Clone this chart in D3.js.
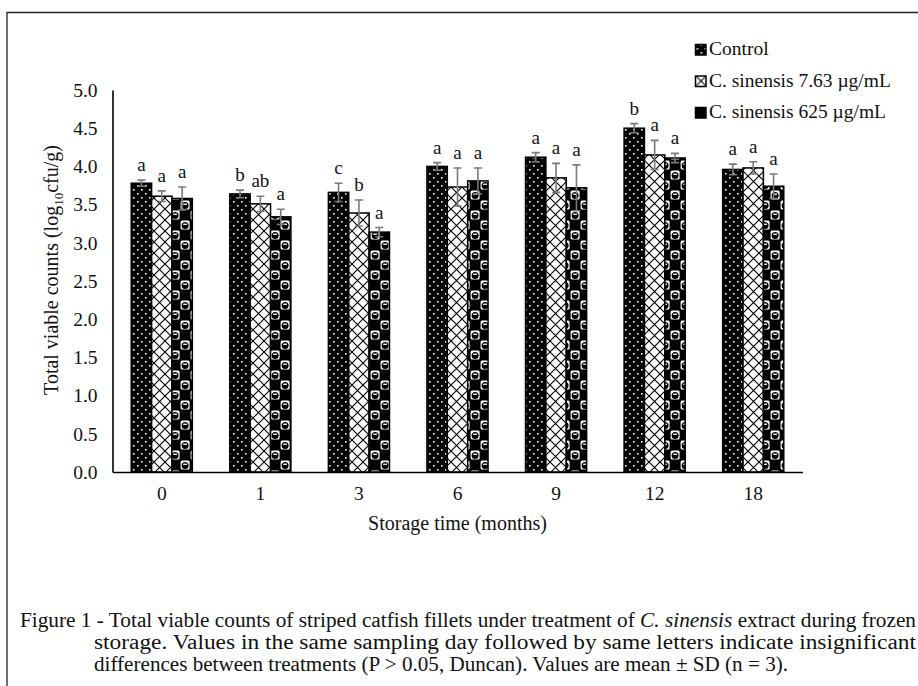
<!DOCTYPE html>
<html>
<head>
<meta charset="utf-8">
<script src="https://cdn.jsdelivr.net/npm/d3@7"></script>
<style>
  body { margin: 0; background: #fff; }
  svg text { font-family: "Liberation Serif", "Times New Roman", serif; fill: #111; }
</style>
</head>
<body>
<div id="chart"></div>
<script>
// Data
var months = ["0", "1", "3", "6", "9", "12", "18"];
var seriesNames = ["Control", "C. sinensis 7.63 \u00b5g/mL", "C. sinensis 625 \u00b5g/mL"];

var controlMean = [3.78, 3.64, 3.66, 4.00, 4.12, 4.50, 3.96];
var lowMean     = [3.61, 3.51, 3.39, 3.73, 3.85, 4.15, 3.98];
var highMean    = [3.58, 3.34, 3.14, 3.81, 3.72, 4.11, 3.74];

var controlSD = [0.04, 0.05, 0.12, 0.05, 0.06, 0.06, 0.07];
var lowSD     = [0.07, 0.10, 0.17, 0.25, 0.19, 0.19, 0.08];
var highSD    = [0.15, 0.10, 0.06, 0.17, 0.30, 0.06, 0.16];

var controlLetters = ["a", "b", "c", "a", "a", "b", "a"];
var lowLetters     = ["a", "ab", "b", "a", "a", "a", "a"];
var highLetters    = ["a", "a", "a", "a", "a", "a", "a"];

var yTicks = [0, 0.5, 1, 1.5, 2, 2.5, 3, 3.5, 4, 4.5, 5];

var captionLines = [
  ["Figure 1 - Total viable counts of striped catfish fillets under treatment of ", "C. sinensis", " extract during frozen"],
  ["storage. Values in the same sampling day followed by same letters indicate insignificant"],
  ["differences between treatments (P > 0.05, Duncan). Values are mean \u00b1 SD (n = 3)."]
];

var svgWidth = 918;
var svgHeight = 686;
var margin = { top: 90, left: 112.5, right: 115.5, bottom: 214 };
var height = svgHeight - margin.top - margin.bottom;

var svg = d3.select("#chart")
  .append("svg")
  .attr("width", svgWidth)
  .attr("height", svgHeight);

// Fill patterns
var defs = svg.append("defs");

var pDots = defs.append("pattern")
  .attr("id", "pat0").attr("patternUnits", "userSpaceOnUse")
  .attr("width", 8).attr("height", 8);
pDots.append("rect").attr("width", 8).attr("height", 8).attr("fill", "#000");
pDots.append("rect").attr("x", 1).attr("y", 1).attr("width", 1.6).attr("height", 1.6).attr("fill", "#fff");
pDots.append("rect").attr("x", 5).attr("y", 5).attr("width", 1.6).attr("height", 1.6).attr("fill", "#fff");

var pCross = defs.append("pattern")
  .attr("id", "pat1").attr("patternUnits", "userSpaceOnUse")
  .attr("width", 11).attr("height", 11);
pCross.append("rect").attr("width", 11).attr("height", 11).attr("fill", "#fff");
pCross.append("path").attr("d", "M0,0L11,11M11,0L0,11")
  .attr("stroke", "#000").attr("stroke-width", 1.1);

// checkerboard of white cells holding a black ball
var pBalls = defs.append("pattern")
  .attr("id", "pat2").attr("patternUnits", "userSpaceOnUse")
  .attr("width", 20).attr("height", 20);
pBalls.append("rect").attr("width", 20).attr("height", 20).attr("fill", "#000");
[[0, 0], [10, 10]].forEach(function(o) {
  pBalls.append("rect").attr("x", o[0] + 0.6).attr("y", o[1] + 0.6)
    .attr("width", 9).attr("height", 9).attr("rx", 1.5).attr("fill", "#fff");
  pBalls.append("circle").attr("cx", o[0] + 5.1).attr("cy", o[1] + 5.4)
    .attr("r", 3.5).attr("fill", "#000");
  pBalls.append("rect").attr("x", o[0] + 3.2).attr("y", o[1] + 3.6)
    .attr("width", 3.8).attr("height", 1.3).attr("fill", "#fff");
});

// Outer frame
svg.append("path")
  .attr("d", "M7,700V12.5H930")
  .attr("fill", "none")
  .attr("stroke", "#222")
  .attr("stroke-width", 1.3);

// Scales
var x0 = d3.scaleBand()
  .domain(months)
  .range([margin.left, svgWidth - margin.right])
  .paddingInner(0.38)
  .paddingOuter(0.19);

var x1 = d3.scaleBand()
  .domain(d3.range(3))
  .range([0, x0.bandwidth()]);

var y = d3.scaleLinear()
  .domain([0, 5])
  .range([margin.top + height, margin.top]);

// Bars
var series = [
  { mean: controlMean, sd: controlSD, letters: controlLetters },
  { mean: lowMean, sd: lowSD, letters: lowLetters },
  { mean: highMean, sd: highSD, letters: highLetters }
];

var rows = [];
months.forEach(function(m, i) {
  series.forEach(function(s, k) {
    rows.push({ month: m, k: k, v: s.mean[i], sd: s.sd[i], letter: s.letters[i] });
  });
});

var cx = function(d) { return x0(d.month) + x1(d.k) + x1.bandwidth() / 2; };

svg.append("g").selectAll("rect")
  .data(rows)
  .enter()
  .append("rect")
  .attr("x", d => x0(d.month) + x1(d.k))
  .attr("y", d => y(d.v))
  .attr("width", x1.bandwidth())
  .attr("height", d => y(0) - y(d.v))
  .attr("fill", d => "url(#pat" + d.k + ")")
  .attr("stroke", "#000")
  .attr("stroke-width", 1.5);

// Error bars
var err = svg.append("g")
  .attr("stroke", "#7a7a7a")
  .attr("stroke-width", 1.6)
  .attr("fill", "none");

err.selectAll("path")
  .data(rows)
  .enter()
  .append("path")
  .attr("d", function(d) {
    var c = cx(d), t = y(d.v + d.sd), b = y(d.v - d.sd);
    return "M" + c + "," + t + "V" + b +
      "M" + (c - 4) + "," + t + "H" + (c + 4) +
      "M" + (c - 4) + "," + b + "H" + (c + 4);
  });

// Significance letters
svg.append("g").selectAll("text")
  .data(rows)
  .enter()
  .append("text")
  .attr("x", cx)
  .attr("y", d => y(d.v + d.sd) - 9)
  .attr("text-anchor", "middle")
  .style("font-size", "19px")
  .text(d => d.letter);

// Axes
var leftAxis = d3.axisLeft(y)
  .tickValues(yTicks)
  .tickFormat(d3.format(".1f"))
  .tickSize(0)
  .tickPadding(15);

var bottomAxis = d3.axisBottom(x0)
  .tickSize(0)
  .tickPadding(14);

svg.append("g")
  .attr("transform", `translate(0, ${y(0)})`)
  .call(bottomAxis)
  .call(g => g.select(".domain").attr("stroke", "#000").attr("stroke-width", 1.6))
  .call(g => g.selectAll("text").style("font-size", "19.5px").attr("fill", "#111"));

svg.append("g")
  .attr("transform", `translate(${margin.left}, 0)`)
  .call(leftAxis)
  .call(g => g.select(".domain").attr("stroke", "#000").attr("stroke-width", 1.6))
  .call(g => g.selectAll("text").style("font-size", "19.5px").attr("fill", "#111"));

// Axis titles
svg.append("text")
  .attr("x", (margin.left + svgWidth - margin.right) / 2)
  .attr("y", 530)
  .attr("text-anchor", "middle")
  .style("font-size", "20px")
  .text("Storage time (months)");

var yTitle = svg.append("text")
  .attr("transform", "translate(58, 270) rotate(-90)")
  .attr("text-anchor", "middle")
  .style("font-size", "20px");
yTitle.append("tspan").text("Total viable counts (log");
yTitle.append("tspan").attr("dy", 5).style("font-size", "13px").text("10");
yTitle.append("tspan").attr("dy", -5).text("cfu/g)");

// Legend
var legend = svg.append("g").selectAll("g")
  .data(seriesNames)
  .enter()
  .append("g")
  .attr("transform", (d, i) => `translate(695.5, ${55 + i * 31.5})`);

legend.append("rect")
  .attr("x", 0).attr("y", -10.5)
  .attr("width", 10.5).attr("height", 10.5)
  .attr("fill", (d, i) => "url(#pat" + i + ")")
  .attr("stroke", "#000")
  .attr("stroke-width", 1.5);

legend.append("text")
  .attr("x", 13.5)
  .attr("y", 0)
  .style("font-size", "19.5px")
  .text(d => d);

// Caption
var capX = [20, 94, 94];
var capLen = [896, 822, 694];
captionLines.forEach(function(parts, i) {
  var t = svg.append("text")
    .attr("x", capX[i])
    .attr("y", 627 + i * 22)
    .attr("textLength", capLen[i])
    .attr("lengthAdjust", "spacingAndGlyphs")
    .style("font-size", "20px");
  parts.forEach(function(p, j) {
    t.append("tspan")
      .style("font-style", (i === 0 && j === 1) ? "italic" : "normal")
      .text(p);
  });
});
</script>
</body>
</html>
